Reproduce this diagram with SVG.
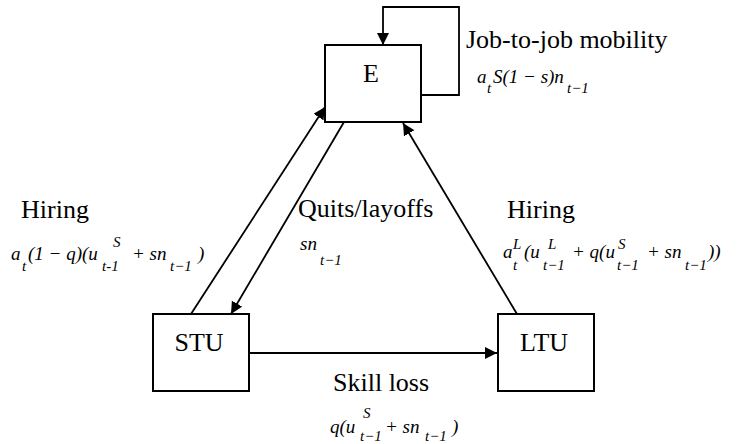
<svg xmlns="http://www.w3.org/2000/svg" width="737" height="444" viewBox="0 0 737 444">
<style>
.box{fill:#fff;stroke:#000;stroke-width:2}
.lbl{font-family:"Liberation Serif","Times New Roman",serif;font-size:26px;fill:#000}
.nl{font-family:"Liberation Serif","Times New Roman",serif;font-size:26px;fill:#000;text-anchor:middle}
.m{font-family:"Liberation Serif","Times New Roman",serif;font-size:19px;font-style:italic;fill:#000}
.s{font-size:15px}
.c{fill:none;stroke:#000;stroke-width:1.8}
</style>
<defs>
<marker id="ah" markerUnits="userSpaceOnUse" markerWidth="12" markerHeight="12" refX="12" refY="6" orient="auto">
<path d="M0,0 L12,6 L0,12 z" fill="#000"/>
</marker>
</defs>
<rect width="737" height="444" fill="#fff"/>
<g id="connectors">
<path class="c" d="M421,95 H459 V7 H383 V45" marker-end="url(#ah)"/>
<line class="c" x1="191" y1="314" x2="325" y2="107" marker-end="url(#ah)"/>
<line class="c" x1="344" y1="122" x2="231" y2="314" marker-end="url(#ah)"/>
<line class="c" x1="517" y1="314" x2="403" y2="123" marker-end="url(#ah)"/>
<line class="c" x1="249" y1="353" x2="497" y2="353" marker-end="url(#ah)"/>
</g>
<g id="node-E">
<rect class="box" x="325" y="45" width="96" height="77"/>
<text class="nl" x="371" y="82">E</text>
</g>
<g id="node-STU">
<rect class="box" x="153" y="314" width="96" height="77"/>
<text class="nl" x="199" y="351">STU</text>
</g>
<g id="node-LTU">
<rect class="box" x="498" y="314" width="96" height="77"/>
<text class="nl" x="544" y="351">LTU</text>
</g>
<g id="labels">
<text class="lbl" x="466" y="48">Job-to-job mobility</text>
<text class="m"><tspan x="477" y="83">a</tspan><tspan class="s" x="487" y="93">t</tspan><tspan x="493" y="83">S(1 − s)n</tspan><tspan class="s" x="567" y="93">t−1</tspan></text>

<text class="lbl" x="21" y="218">Hiring</text>
<text class="m"><tspan x="11" y="260">a</tspan><tspan class="s" x="22" y="271">t</tspan><tspan x="28" y="260">(1 − q)(u</tspan><tspan class="s" x="113" y="247">S</tspan><tspan class="s" x="102" y="271">t-1</tspan><tspan x="132" y="260">+ sn</tspan><tspan class="s" x="170" y="271">t−1</tspan><tspan x="198" y="260">)</tspan></text>

<text class="lbl" x="298" y="217">Quits/layoffs</text>
<text class="m"><tspan x="300" y="250">sn</tspan><tspan class="s" x="320" y="265">t−1</tspan></text>

<text class="lbl" x="507" y="218">Hiring</text>
<text class="m"><tspan x="503" y="258">a</tspan><tspan class="s" x="513" y="249">L</tspan><tspan class="s" x="513" y="270">t</tspan><tspan x="524" y="258">(u</tspan><tspan class="s" x="548" y="249">L</tspan><tspan class="s" x="543" y="270">t−1</tspan><tspan x="572" y="258">+ q(u</tspan><tspan class="s" x="618" y="249">S</tspan><tspan class="s" x="617" y="270">t−1</tspan><tspan x="647" y="258">+ sn</tspan><tspan class="s" x="685" y="270">t−1</tspan><tspan x="708" y="258">))</tspan></text>

<text class="lbl" x="333" y="391">Skill loss</text>
<text class="m"><tspan x="330" y="433">q(u</tspan><tspan class="s" x="363" y="418">S</tspan><tspan class="s" x="360" y="441">t−1</tspan><tspan x="385" y="433">+ sn</tspan><tspan class="s" x="425" y="441">t−1</tspan><tspan x="452" y="433">)</tspan></text>
</g>
</svg>
